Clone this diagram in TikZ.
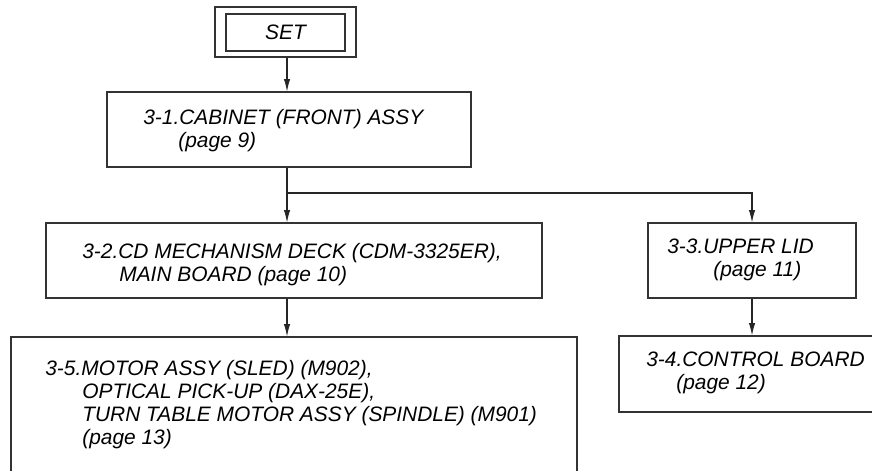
\documentclass[tikz,border=0pt]{standalone}
\usepackage{fontspec}
\setmainfont{Liberation Sans}
\usetikzlibrary{arrows.meta,fit}
\tikzset{
  box/.style={draw=black!80, line width=0.6pt, inner sep=0pt},
  lbl/.style={anchor=base west, inner sep=0pt, align=left,
    font=\fontsize{11.9pt}{13pt}\selectfont\itshape},
  flow/.style={draw=black!85, line width=0.6pt, -{Latex[length=7pt,width=3.6pt]}},
  wire/.style={draw=black!85, line width=0.6pt}
}

\begin{document}
\begin{tikzpicture}[x=0.02cm, y=-0.02cm]
     \useasboundingbox (0,0) rectangle (872,470);
     \clip (0,0) rectangle (872,470);
     % boxes
     \node [box, fit={(215,7) (356,57)}] (SO) {};
     \node [box, fit={(226,14) (345,51)}] (SI) {};
     \node [box, fit={(107,92) (471,167)}] (CAB) {};
     \node [box, fit={(46,223) (542,298)}] (CD) {};
     \node [box, fit={(11,337) (577,490)}] (MOT) {};
     \node [box, fit={(648,223) (856,298)}] (LID) {};
     \node [box, fit={(619,336) (890,412)}] (CTL) {};
     % texts (base = last line)
     \node [lbl, anchor=center] (SET) at (SI) {SET};
     \node [lbl] (CABt) at (143,147) {3-1.CABINET (FRONT) ASSY\\\hspace*{0.7cm}(page 9)};
     \node [lbl] (CDt) at (82,281) {3-2.CD MECHANISM DECK (CDM-3325ER),\\\hspace*{0.74cm}MAIN BOARD (page 10)};
     \node [lbl] (MOTt) at (45,444) {3-5.MOTOR ASSY (SLED) (M902),\\\hspace*{0.74cm}OPTICAL PICK-UP (DAX-25E),\\\hspace*{0.74cm}TURN TABLE MOTOR ASSY (SPINDLE) (M901)\\\hspace*{0.74cm}(page 13)};
     \node [lbl] (LIDt) at (667,276) {3-3.UPPER LID\\\hspace*{0.92cm}(page 11)};
     \node [lbl] (CTLt) at (646,389) {3-4.CONTROL BOARD\\\hspace*{0.6cm}(page 12)};
     % connectors
     \coordinate (split) at (287,193);
     \draw [flow] (SO.south -| split) -- (CAB.north -| split);
     \draw [wire] (CAB.south -| split) -- (split);
     \draw [flow] (split) -- (CD.north -| split);
     \draw [flow] (split) -| (LID.north);
     \draw [flow] (CD.south -| split) -- (MOT.north -| split);
     \draw [flow] (LID.south) -- (CTL.north -| LID.south);
\end{tikzpicture}
\end{document}
